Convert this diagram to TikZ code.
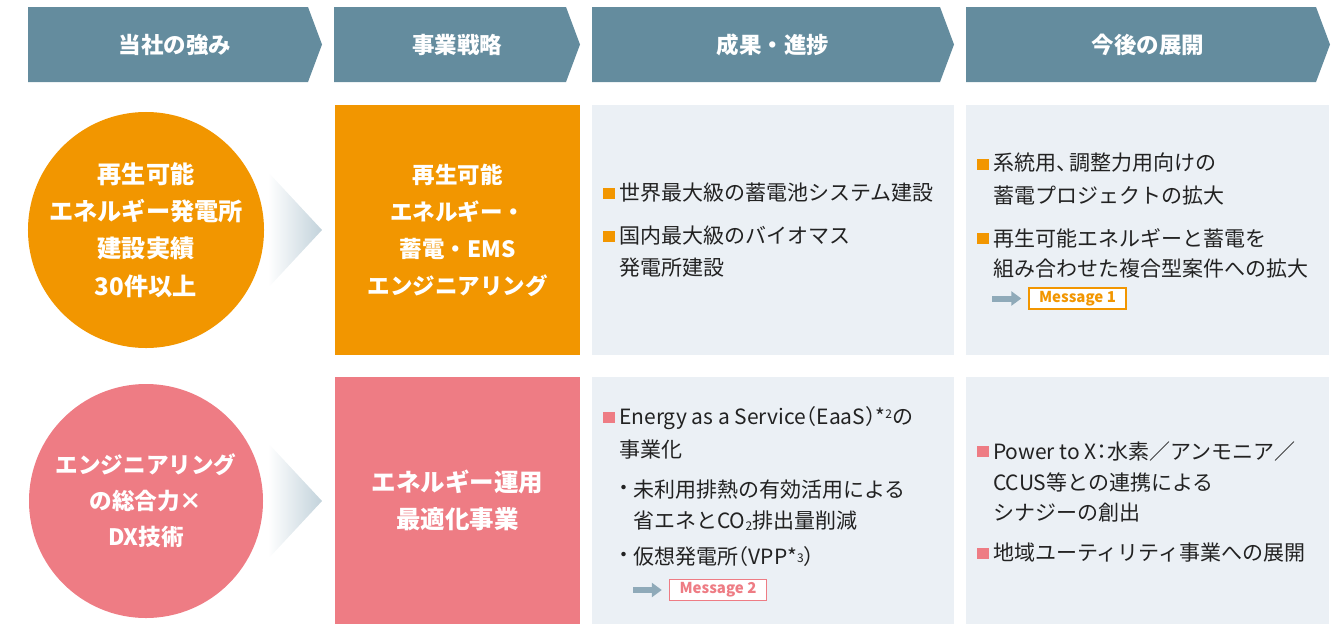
\documentclass[tikz,border=0pt]{standalone}
\usepackage{fontspec}
\setmainfont{Noto Sans CJK JP}
\usetikzlibrary{arrows.meta}
\definecolor{hdr}{HTML}{648C9E}
\definecolor{org}{HTML}{F29600}
\definecolor{pnk}{HTML}{EE7C84}
\definecolor{lbox}{HTML}{EBF0F5}
\definecolor{txt}{HTML}{222222}
\definecolor{marr}{HTML}{8FAAB9}
\definecolor{grd}{HTML}{C2D2DB}
\newcommand{\hwid}[1]{{\addfontfeatures{RawFeature=+halt}#1}}
\begin{document}
\begin{tikzpicture}[x=1pt,y=-1pt,
  hdrtext/.style={text=white,font=\fontsize{22.5}{26}\selectfont\bfseries,inner sep=0},
  circbox/.style={circle,minimum size=234pt,inner sep=0,align=center,text=white},
  rectbox/.style={rectangle,minimum width=245pt,inner sep=0,align=center,text=white},
  bodytext/.style={text=txt,font=\fontsize{21}{24}\selectfont,inner sep=0,anchor=west},
  sqbullet/.style={rectangle,minimum width=11.5pt,minimum height=11pt,inner sep=0},
  dotbullet/.style={text=txt,font=\fontsize{21}{24}\selectfont,inner sep=0},
  msgbox/.style={rectangle,draw,line width=1.4pt,fill=white,minimum width=97pt,minimum height=21pt,inner sep=0,font=\fontsize{15}{18}\selectfont\bfseries},
  msgarrow/.style={draw=marr,line width=6pt,-{Triangle[length=10pt,width=14pt]},shorten >=7pt}
]
\useasboundingbox (0,0) rectangle (1338,624);
% header chevrons
\fill[hdr] (28,7) -- (308,7) -- (322,44.5) -- (308,82) -- (28,82) -- cycle;
\fill[hdr] (334,7) -- (566,7) -- (580,44.5) -- (566,82) -- (334,82) -- cycle;
\fill[hdr] (592,7) -- (940,7) -- (954,44.5) -- (940,82) -- (592,82) -- cycle;
\fill[hdr] (966,7) -- (1316,7) -- (1330,44.5) -- (1316,82) -- (966,82) -- cycle;
\node[hdrtext] (h1) at (175,45) {当社の強み};
\node[hdrtext] (h2) at (457,45) {事業戦略};
\node[hdrtext] (h3) at (773,45) {成果・進捗};
\node[hdrtext] (h4) at (1148,45) {今後の展開};
% light boxes
\fill[lbox] (592,105) rectangle (954,355);
\fill[lbox] (966,105) rectangle (1329,355);
\fill[lbox] (592,377) rectangle (954,624);
\fill[lbox] (966,377) rectangle (1329,624);
% gradient arrows
\shade[left color=white,right color=grd] (268,172) -- (322,230) -- (268,288) -- cycle;
\shade[left color=white,right color=grd] (268,443) -- (322,501) -- (268,559) -- cycle;
% row 1
\node[circbox,fill=org,font=\fontsize{24.2}{37.2}\selectfont\bfseries] (c1) at (146,230)
  {再生可能\\エネルギー発電所\\建設実績\\30件以上};
\node[rectbox,fill=org,minimum height=250pt,font=\fontsize{22.5}{37}\selectfont\bfseries] (r1) at (457.5,230)
  {再生可能\\エネルギー・\\蓄電・EMS\\エンジニアリング};
% row 2
\node[circbox,fill=pnk,font=\fontsize{22.6}{36}\selectfont\bfseries] (c2) at (146,501)
  {エンジニアリング\\の総合力×\\DX技術};
\node[rectbox,fill=pnk,minimum height=247pt,font=\fontsize{24.5}{37}\selectfont\bfseries] (r2) at (457.5,500.5)
  {エネルギー運用\\最適化事業};
% row1 col3
\node[sqbullet,fill=org] (b1) at (609,193) {};
\node[bodytext] (t1) at (619,193) {世界最大級の蓄電池システム建設};
\node[sqbullet,fill=org] (b2) at (609,236) {};
\node[bodytext] (t2) at (619,236) {国内最大級のバイオマス};
\node[bodytext] (t3) at (619,268) {発電所建設};
% row1 col4
\node[sqbullet,fill=org] (b3) at (983,164) {};
\node[bodytext] (t4) at (993,163) {系統用\hwid{、}\hspace{3pt}調整力用向けの};
\node[bodytext] (t5) at (993,196) {蓄電プロジェクトの拡大};
\node[sqbullet,fill=org] (b4) at (983,238) {};
\node[bodytext] (t6) at (993,238) {再生可能エネルギーと蓄電を};
\node[bodytext] (t7) at (993,269) {組み合わせた複合型案件への拡大};
\coordinate (a1) at (992,298.5);
\node[msgbox,draw=org,text=org] (m1) at (1077.5,298.5) {Message 1};
\draw[msgarrow] (a1) -- (m1.west);
% row2 col3
\node[sqbullet,fill=pnk] (b5) at (609,417) {};
\node[bodytext] (t8) at (619,418) {Energy as a Service\hwid{（}EaaS\hwid{）}*\raisebox{0.55ex}{\fontsize{12}{12}\selectfont 2}の};
\node[bodytext] (t9) at (619,450) {事業化};
\node[dotbullet] (d1) at (624,490) {・};
\node[bodytext] (t10) at (633,490) {未利用排熱の有効活用による};
\node[bodytext] (t11) at (633,521) {省エネとCO\raisebox{-0.1ex}{\fontsize{12}{12}\selectfont 2}排出量削減};
\node[dotbullet] (d2) at (624,557) {・};
\node[bodytext] (t12) at (633,557) {仮想発電所\hwid{（}VPP*\raisebox{0.2ex}{\fontsize{12}{12}\selectfont 3}\hwid{）}};
\coordinate (a2) at (633,590);
\node[msgbox,draw=pnk,text=pnk] (m2) at (718,590) {Message 2};
\draw[msgarrow] (a2) -- (m2.west);
% row2 col4
\node[sqbullet,fill=pnk] (b6) at (983,451) {};
\node[bodytext] (t13) at (993,452) {Power to X\hwid{：}水素／アンモニア／};
\node[bodytext] (t14) at (993,482) {CCUS等との連携による};
\node[bodytext] (t15) at (993,513) {シナジーの創出};
\node[sqbullet,fill=pnk] (b7) at (983,553) {};
\node[bodytext] (t16) at (993,553) {地域ユーティリティ事業への展開};
\end{tikzpicture}
\end{document}
